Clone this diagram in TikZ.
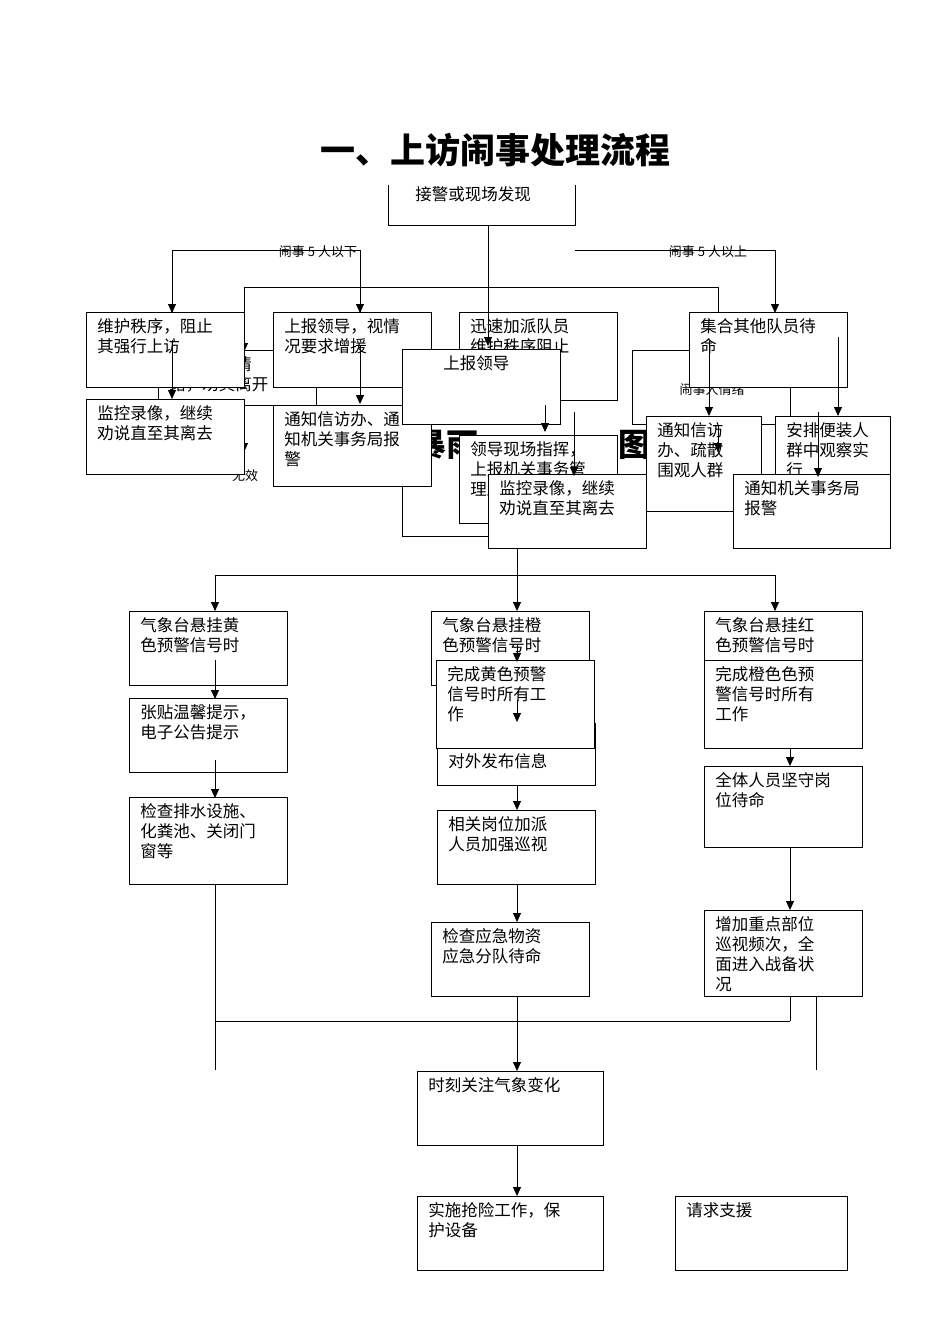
\documentclass[tikz,border=0pt]{standalone}
\usepackage{fontspec}
\setmainfont{Liberation Serif}
\newfontfamily\cjk{Noto Sans CJK SC}
\usetikzlibrary{arrows.meta}
\newcommand{\bx}[6][]{%
  \draw[fill=white] (#2,#3) rectangle (#4,#5);
  \node[txt,text width={(#4-#2-22)*1pt}] at (#2+11,#3+6) {#6};}
\begin{document}
\begin{tikzpicture}[x=1pt,y=-1pt,line width=0.8pt,
  txt/.style={anchor=north west,inner sep=0pt,align=left,font=\cjk\fontsize{16.5}{20}\selectfont},
  lab/.style={inner sep=0pt,font=\cjk\fontsize{13}{15}\selectfont},
  ar/.style={-{Triangle[length=9pt,width=8pt]}}]
\useasboundingbox (0,0) rectangle (950,1344);
\node[font=\cjk\bfseries\fontsize{35}{38}\selectfont] (t1) at (495,150) {一、上访闹事处理流程};
% hidden layer
\node[font=\cjk\bfseries\fontsize{32}{36}\selectfont] (t2a) at (446,445) {暴雨};
\node[font=\cjk\bfseries\fontsize{32}{36}\selectfont] (t2b) at (634,445) {图};
\coordinate (h1) at (244,287); \coordinate (h2) at (718,287);
\draw (244,350) -- (h1) -- (h2) -- (718,312);
\draw[ar] (244,330) -- (244,352);
\bx{158}{350}{316}{405}{闹事人员情\\ 绪，劝其离开}
\draw[ar] (244,430) -- (244,452);
\node[lab] (wx) at (245,476) {无效};
\draw (402,424) -- (402,536) -- (488,536);
\bx{632}{350}{790}{424}{}
\node[lab] (qx) at (712,390) {闹事人情绪};
% top
\draw (388,185) -- (388,225) -- (575,225) -- (575,185);
\node[txt] (a) at (415,186) {接警或现场发现};
\draw (172,312) -- (172,250) -- (360,250) -- (360,312);
\draw[ar] (172,290) -- (172,313);
\draw[ar] (360,290) -- (360,313);
\node[lab] (l1) at (318,252) {闹事 5 人以下};
\draw (575,250) -- (775,250) -- (775,300);
\draw[ar] (775,290) -- (775,313);
\node[lab] (l2) at (708,252) {闹事 5 人以上};
\bx{86}{312}{244}{387}{维护秩序，阻止\\其强行上访}
\bx{273}{312}{431}{387}{上报领导，视情\\况要求增援}
\bx{459}{312}{617}{400}{迅速加派队员\\维护秩序阻止\\上访}
\draw[ar] (488,225) -- (488,346);
\draw[ar] (172,340) -- (172,399);
\draw (316,387) -- (316,405);
\bx{86}{399}{244}{474}{监控录像，继续\\劝说直至其离去}
\bx{273}{405}{431}{486}{通知信访办、通\\知机关事务局报\\警}
\draw[ar] (360,345) -- (360,404);
\bx{402}{349}{560}{424}{\hspace*{30pt}上报领导}
\bx{459}{435}{617}{523}{领导现场指挥，\\上报机关事务管\\理局}
\draw[ar] (545,405) -- (545,432);
\bx{488}{474}{646}{548}{监控录像，继续\\劝说直至其离去}
\draw[ar] (574,412) -- (574,476);
\bx{689}{312}{847}{387}{集合其他队员待\\命}
\draw (790,387) -- (790,416);
\bx{646}{416}{761}{511}{通知信访\\办、疏散\\围观人群}
\bx{775}{416}{890}{500}{安排便装人\\群中观察实\\行...}
\draw[ar] (709,340) -- (709,416);
\draw[ar] (838,337) -- (838,416);
\draw[ar] (718,425) -- (718,452);
\bx{733}{474}{890}{548}{通知机关事务局\\报警}
\draw[ar] (818,412) -- (818,477);
% lower
\draw (517,548) -- (517,575);
\draw (215,610) -- (215,575) -- (775,575) -- (775,610);
\draw[ar] (215,590) -- (215,611);
\draw[ar] (517,575) -- (517,611);
\draw[ar] (775,590) -- (775,611);
\bx{129}{611}{287}{685}{气象台悬挂黄\\色预警信号时}
\bx{129}{698}{287}{772}{张贴温馨提示，\\电子公告提示}
\bx{129}{797}{287}{884}{检查排水设施、\\化粪池、关闭门\\窗等}
\draw[ar] (215,660) -- (215,699);
\draw[ar] (215,760) -- (215,798);
\draw (215,884) -- (215,1070);
\draw (215,1021) -- (790,1021);
\bx{431}{611}{589}{685}{气象台悬挂橙\\色预警信号时}
\bx{437}{723}{595}{785}{\\[18pt]对外发布信息}
\bx{436}{660}{594}{748}{完成黄色预警\\信号时所有工\\作}
\draw[ar] (517,645) -- (517,662);
\draw[ar] (517,700) -- (517,722);
\draw[ar] (517,785) -- (517,810);
\bx{437}{810}{595}{884}{相关岗位加派\\人员加强巡视}
\draw[ar] (517,884) -- (517,922);
\bx{431}{922}{589}{996}{检查应急物资\\应急分队待命}
\draw[ar] (517,996) -- (517,1071);
\bx{704}{611}{862}{685}{气象台悬挂红\\色预警信号时}
\bx{704}{660}{862}{748}{完成橙色色预\\警信号时所有\\工作}
\draw[ar] (790,748) -- (790,766);
\bx{704}{766}{862}{847}{全体人员坚守岗\\位待命}
\draw[ar] (790,847) -- (790,910);
\bx{704}{910}{862}{996}{增加重点部位\\巡视频次，全\\面进入战备状\\况}
\draw (790,996) -- (790,1021);
\draw (816,996) -- (816,1070);
\bx{417}{1071}{603}{1145}{时刻关注气象变化}
\draw[ar] (517,1145) -- (517,1196);
\bx{417}{1196}{603}{1270}{实施抢险工作，保\\护设备}
\bx{675}{1196}{847}{1270}{请求支援}
\end{tikzpicture}
\end{document}
